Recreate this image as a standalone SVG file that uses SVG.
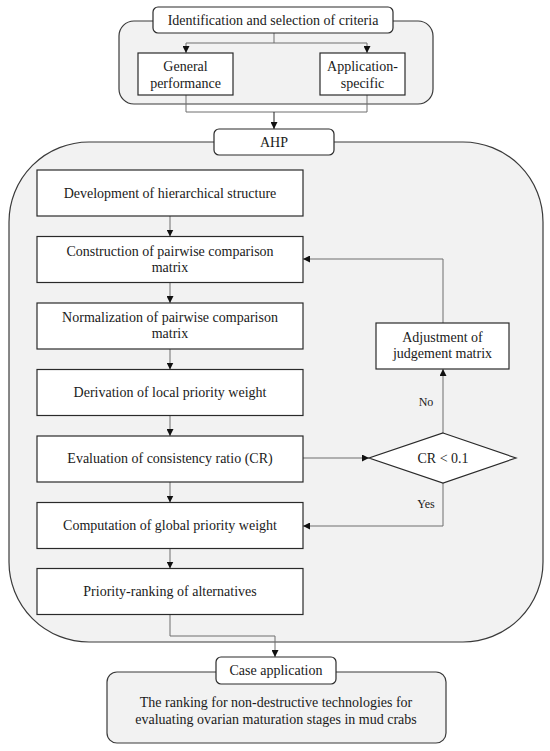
<svg xmlns="http://www.w3.org/2000/svg" width="550" height="751" viewBox="0 0 550 751">
<style>
.cont{fill:#f2f2f2;stroke:#3a3a3a;stroke-width:1.2}
.box{fill:#ffffff;stroke:#2a2a2a;stroke-width:1.2}
.t{font-family:"Liberation Serif","Times New Roman",serif;font-size:14px;fill:#1a1a1a;text-anchor:middle}
.s{font-size:12px}
.ln{fill:none;stroke:#6e6e6e;stroke-width:1}
.lnd{fill:none;stroke:#222;stroke-width:1}
</style>
<defs>
<marker id="ah" viewBox="0 0 8 8" refX="8" refY="4" markerWidth="7" markerHeight="7" orient="auto" markerUnits="userSpaceOnUse">
<path d="M0,0 L8,4 L0,8 z" fill="#111"/>
</marker>
</defs>
<rect width="550" height="751" fill="#ffffff"/>

<g id="criteria-container"><rect class="cont" x="119" y="21" width="314" height="83" rx="15"/></g>
<g id="ahp-container"><rect class="cont" x="9" y="142" width="534" height="500" rx="80"/></g>
<g id="case-container"><rect class="cont" x="107" y="672" width="339" height="71" rx="10"/></g>

<g id="connectors">
<path class="ln" d="M274,33 V43 M186,43 H367"/>
<path class="ln" d="M186,43 V53" marker-end="url(#ah)"/>
<path class="ln" d="M367,43 V53" marker-end="url(#ah)"/>
<path class="ln" d="M186,95 V112 H367 V95"/>
<path class="lnd" d="M274,112 V129" marker-end="url(#ah)"/>
<path class="ln" d="M170,216 V236.5" marker-end="url(#ah)"/>
<path class="ln" d="M170,282.5 V303" marker-end="url(#ah)"/>
<path class="ln" d="M170,349 V369.5" marker-end="url(#ah)"/>
<path class="ln" d="M170,415.5 V436" marker-end="url(#ah)"/>
<path class="ln" d="M170,482 V502.5" marker-end="url(#ah)"/>
<path class="ln" d="M170,548.5 V568.5" marker-end="url(#ah)"/>
<path class="ln" d="M303,458 H369" marker-end="url(#ah)"/>
<path class="ln" d="M443,433 V369" marker-end="url(#ah)"/>
<path class="ln" d="M443,323 V259 H303" marker-end="url(#ah)"/>
<path class="ln" d="M443,483 V526 H303" marker-end="url(#ah)"/>
<path class="ln" d="M170,614.5 V636 H275 V657" marker-end="url(#ah)"/>
<text class="t s" x="426" y="406">No</text>
<text class="t s" x="426" y="508">Yes</text>
</g>

<g id="identification"><rect class="box" x="153" y="7" width="240" height="26" rx="5"/><text class="t" x="273" y="25">Identification and selection of criteria</text></g>
<g id="general"><rect class="box" x="138" y="53" width="95" height="42"/><text class="t" x="185.5" y="71">General</text><text class="t" x="185.5" y="88">performance</text></g>
<g id="application"><rect class="box" x="320" y="53" width="85" height="42"/><text class="t" x="362.5" y="71">Application-</text><text class="t" x="362.5" y="88">specific</text></g>
<g id="ahp"><rect class="box" x="214" y="129" width="120" height="26" rx="5"/><text class="t" x="274" y="147">AHP</text></g>

<g id="development"><rect class="box" x="37" y="170" width="266" height="46"/><text class="t" x="170" y="198">Development of hierarchical structure</text></g>
<g id="construction"><rect class="box" x="37" y="236.5" width="266" height="46"/><text class="t" x="170" y="256">Construction of pairwise comparison</text><text class="t" x="170" y="272">matrix</text></g>
<g id="normalization"><rect class="box" x="37" y="303" width="266" height="46"/><text class="t" x="170" y="322">Normalization of pairwise comparison</text><text class="t" x="170" y="338">matrix</text></g>
<g id="derivation"><rect class="box" x="37" y="369.5" width="266" height="46"/><text class="t" x="170" y="397">Derivation of local priority weight</text></g>
<g id="evaluation"><rect class="box" x="37" y="436" width="266" height="46"/><text class="t" x="170" y="463">Evaluation of consistency ratio (CR)</text></g>
<g id="computation"><rect class="box" x="37" y="502.5" width="266" height="46"/><text class="t" x="170" y="530">Computation of global priority weight</text></g>
<g id="priority"><rect class="box" x="37" y="568.5" width="266" height="46"/><text class="t" x="170" y="596">Priority-ranking of alternatives</text></g>

<g id="adjustment"><rect class="box" x="376" y="323" width="133" height="46"/><text class="t" x="442.5" y="342">Adjustment of</text><text class="t" x="442.5" y="358">judgement matrix</text></g>
<g id="decision"><polygon class="box" points="443,433 516,458 443,483 369,458"/><text class="t" x="443" y="463">CR &lt; 0.1</text></g>

<g id="case-application"><rect class="box" x="216" y="657" width="120" height="27" rx="5"/><text class="t" x="276" y="675">Case application</text></g>
<g id="case-text"><text class="t" x="276" y="707">The ranking for non-destructive technologies for</text><text class="t" x="276" y="724">evaluating ovarian maturation stages in mud crabs</text></g>
</svg>
